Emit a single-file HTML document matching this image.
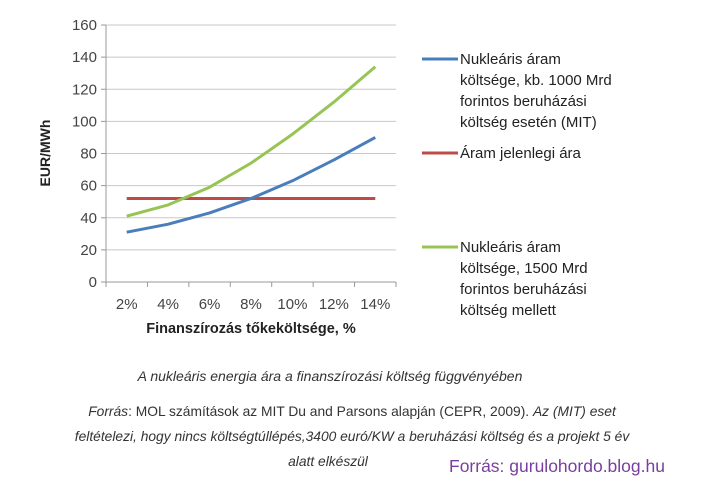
<!DOCTYPE html>
<html><head><meta charset="utf-8"><style>
body{margin:0;background:#fff;width:710px;height:483px;overflow:hidden;font-family:"Liberation Sans",sans-serif}
svg text{font-family:"Liberation Sans",sans-serif}
</style></head><body>
<svg id="chart" width="710" height="483">
<g id="grid"></g>
<g id="axes"></g>
<g id="series"></g>
<text transform="translate(50,153) rotate(-90)" text-anchor="middle" font-size="14" font-weight="bold" fill="#222">EUR/MWh</text>
<text x="251" y="333" text-anchor="middle" font-size="14.5" font-weight="bold" fill="#222">Finanszírozás tőkeköltsége, %</text>
<g font-size="15" fill="#222">
<line x1="422" y1="59" x2="458" y2="59" stroke="#4a7ebb" stroke-width="3"/>
<text x="460" y="64"><tspan x="460">Nukleáris áram</tspan><tspan x="460" dy="21">költsége, kb. 1000 Mrd</tspan><tspan x="460" dy="21">forintos beruházási</tspan><tspan x="460" dy="21">költség esetén (MIT)</tspan></text>
<line x1="422" y1="153" x2="458" y2="153" stroke="#be4b48" stroke-width="3"/>
<text x="460" y="158">Áram jelenlegi ára</text>
<line x1="422" y1="247" x2="458" y2="247" stroke="#98c455" stroke-width="3"/>
<text x="460" y="252"><tspan x="460">Nukleáris áram</tspan><tspan x="460" dy="21">költsége, 1500 Mrd</tspan><tspan x="460" dy="21">forintos beruházási</tspan><tspan x="460" dy="21">költség mellett</tspan></text>
</g>
<text x="330" y="381" text-anchor="middle" font-size="14" font-style="italic" fill="#333">A nukleáris energia ára a finanszírozási költség függvényében</text>
<text font-size="13.8" fill="#333"><tspan x="352" y="416" text-anchor="middle"><tspan font-style="italic">Forrás</tspan>: MOL számítások az MIT Du and Parsons alapján (CEPR, 2009). <tspan font-style="italic">Az (MIT) eset</tspan></tspan><tspan x="352" y="441" text-anchor="middle" font-style="italic">feltételezi, hogy nincs költségtúllépés,3400 euró/KW a beruházási költség és a projekt 5 év</tspan><tspan x="328" y="466" text-anchor="middle" font-style="italic">alatt elkészül</tspan></text>
<text x="449" y="472" font-size="17.5" fill="#7a3f9c">Forrás: gurulohordo.blog.hu</text>
</svg>
<script>
const categories=["2%","4%","6%","8%","10%","12%","14%"];
const blueValues=[31,36,43,52,63,76,90];
const greenValues=[41,48,59,74,92,112,134];
const redValues=[52,52,52,52,52,52,52];
const yTicks=[0,20,40,60,80,100,120,140,160];
const NS="http://www.w3.org/2000/svg";
const L=106,R=396,T=25,B=282,YMAX=160;
const bw=(R-L)/categories.length;
const x=i=>L+bw*(i+0.5);
const y=v=>B-(v/YMAX)*(B-T);
function mk(t,a,p){const e=document.createElementNS(NS,t);for(const k in a)e.setAttribute(k,a[k]);p.appendChild(e);return e;}
const grid=document.getElementById('grid'),axes=document.getElementById('axes'),ser=document.getElementById('series');
yTicks.forEach(v=>{
 const g=mk('line',{x1:L,x2:R,y1:y(v),y2:y(v),stroke:v===0?'#999':'#c8c8c8','stroke-width':1},grid);
 
 
 const t=mk('text',{x:L-9,y:y(v)+5,'text-anchor':'end','font-size':15,fill:'#444'},axes);
 t.textContent=v;
 
 
 mk('line',{x1:L-5,x2:L,y1:y(v),y2:y(v),stroke:'#999'},axes);
});
mk('line',{x1:L,x2:L,y1:T,y2:B,stroke:'#999'},axes);
for(let i=0;i<=categories.length;i++){mk('line',{x1:L+bw*i,x2:L+bw*i,y1:B,y2:B+5,stroke:'#999'},axes);}
categories.forEach((c,i)=>{
 const t=mk('text',{x:x(i),y:B+27,'text-anchor':'middle','font-size':15,fill:'#444'},axes);
 t.textContent=c;
 
 
});
function line(vals,color,name){
 const p=mk('path',{d:vals.map((v,i)=>(i?'L':'M')+x(i)+','+y(v)).join(' '),fill:'none',stroke:color,'stroke-width':3,'stroke-linejoin':'round'},ser);
 
 
}
line(redValues,'#be4b48','line-current-price');
line(greenValues,'#98c455','line-nuclear-1500');
line(blueValues,'#4a7ebb','line-nuclear-1000');
</script>
</body></html>
